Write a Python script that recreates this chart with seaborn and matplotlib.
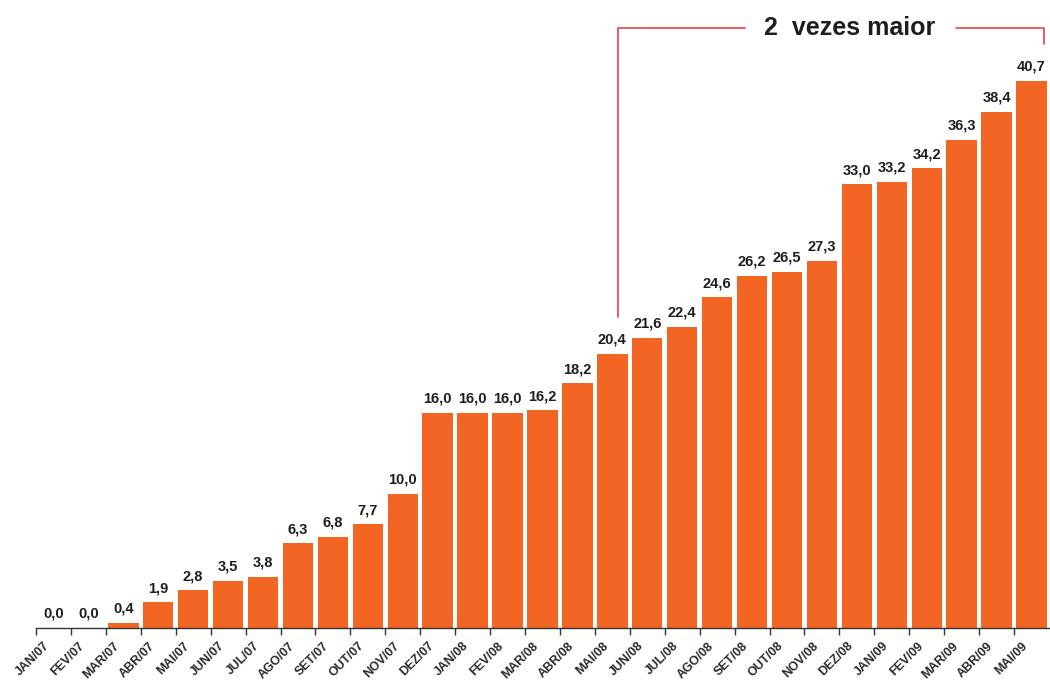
import matplotlib
matplotlib.use("Agg")
import matplotlib.pyplot as plt
import seaborn as sns
import pandas as pd
import numpy as np

months = ["JAN/07", "FEV/07", "MAR/07", "ABR/07", "MAI/07", "JUN/07", "JUL/07", "AGO/07",
          "SET/07", "OUT/07", "NOV/07", "DEZ/07", "JAN/08", "FEV/08", "MAR/08", "ABR/08",
          "MAI/08", "JUN/08", "JUL/08", "AGO/08", "SET/08", "OUT/08", "NOV/08", "DEZ/08",
          "JAN/09", "FEV/09", "MAR/09", "ABR/09", "MAI/09"]
values = [0.0, 0.0, 0.4, 1.9, 2.8, 3.5, 3.8, 6.3, 6.8, 7.7, 10.0, 16.0, 16.0, 16.0, 16.2,
          18.2, 20.4, 21.6, 22.4, 24.6, 26.2, 26.5, 27.3, 33.0, 33.2, 34.2, 36.3, 38.4, 40.7]
annotation_text = "2  vezes maior"

sns.set_theme(style="white")
plt.rcParams['font.family'] = ['Liberation Sans', 'DejaVu Sans']

df = pd.DataFrame({"mes": months, "valor": values})

W, H = 1050, 682
fig = plt.figure(figsize=(W / 100, H / 100), dpi=100)
ax = fig.add_axes([36 / W, (H - 628) / H, (W - 36) / W, 628 / H])

sns.barplot(data=df, x="mes", y="valor", color="#F26522", saturation=1, width=0.87,
            edgecolor="none", ax=ax)

ax.set_ylim(0, 46.7)
ax.set_xlim(-0.5, 28.53)
ax.set_xlabel("")
ax.set_ylabel("")
ax.set_yticks([])
for s in ["top", "right", "left"]:
    ax.spines[s].set_visible(False)
ax.spines["bottom"].set_color("#333333")
ax.spines["bottom"].set_linewidth(1.0)

n = len(months)
ax.set_xticks(np.arange(n) - 0.5)
ax.set_xticklabels([])
ax.tick_params(axis="x", which="major", length=5, width=1, color="#333333", bottom=True)
ax.set_xticks(np.arange(n) - 0.28, minor=True)
ax.set_xticklabels(months, minor=True, rotation=45, ha="right", va="top",
                   rotation_mode="anchor", fontsize=9, fontweight="bold", color="#2a2a2a")
ax.tick_params(axis="x", which="minor", length=0, pad=8.5, bottom=True)

for i, v in enumerate(values):
    ax.annotate(f"{v:.1f}".replace(".", ","), (i, v), xytext=(0, 7), textcoords="offset pixels",
                ha="center", va="bottom", fontsize=10.5, fontweight="bold", color="#1e1e1e")

red = "#E8404C"
ax.plot([16.15, 16.15, 19.8], [23.1, 44.6, 44.6], color=red, lw=1.2, clip_on=False)
ax.plot([25.85, 28.35, 28.35], [44.6, 44.6, 43.4], color=red, lw=1.2, clip_on=False)
ax.text(22.8, 44.6, annotation_text, ha="center", va="center", fontsize=18,
        fontweight="bold", color="#1e1e1e")

fig.savefig("out.png", dpi=100)
